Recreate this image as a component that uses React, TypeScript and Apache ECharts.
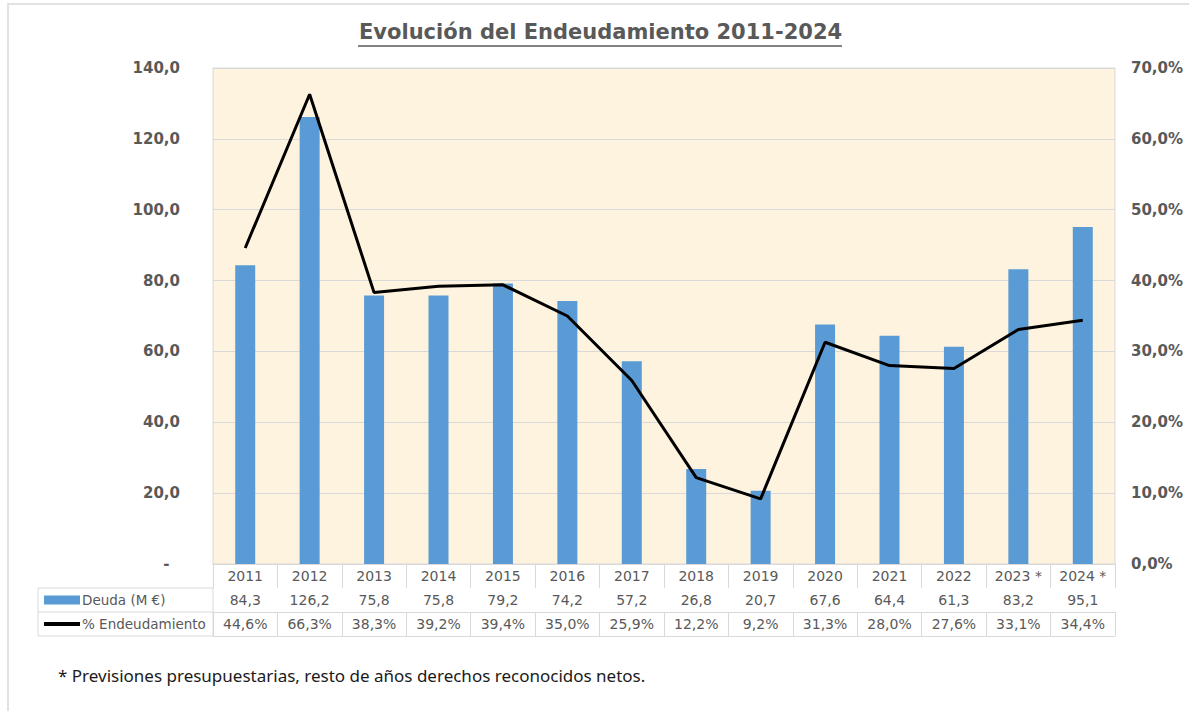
import React, { useEffect, useRef } from "react";
import * as echarts from "echarts";

const years = ["2011", "2012", "2013", "2014", "2015", "2016", "2017", "2018", "2019", "2020", "2021", "2022", "2023 *", "2024 *"];
const deuda = [84.3, 126.2, 75.8, 75.8, 79.2, 74.2, 57.2, 26.8, 20.7, 67.6, 64.4, 61.3, 83.2, 95.1];
const endeudamiento = [44.6, 66.3, 38.3, 39.2, 39.4, 35.0, 25.9, 12.2, 9.2, 31.3, 28.0, 27.6, 33.1, 34.4];
const titleText = "Evolución del Endeudamiento 2011-2024";
const footnote = "* Previsiones presupuestarias, resto de años derechos reconocidos netos.";
const serieDeuda = "Deuda (M €)";
const seriePct = "% Endeudamiento";

const GRAY = "#595959";
const LINE = "#D9D9D9";
const FONT = "DejaVu Sans";

const fmt1 = (v: number) => v.toFixed(1).replace(".", ",");

export default function App() {
  const ref = useRef<HTMLDivElement>(null);
  useEffect(() => {
    if (!ref.current) return;
    const chart = echarts.init(ref.current, null, { renderer: "svg" });
    const gLeft = 213, gTop = 68, gRight = 1115, gBottom = 564;
    const tableLeft = 38, rowH = 24;
    const mkX = (offset: number, labels: ((i: number) => string) | null, ticks: boolean) => ({
      type: "category",
      data: years,
      position: "bottom",
      offset,
      boundaryGap: true,
      axisLine: { show: true, lineStyle: { color: LINE, width: 1 } },
      axisTick: { show: ticks, length: rowH, interval: 0, lineStyle: { color: LINE } },
      axisLabel: labels
        ? {
            show: true,
            interval: 0,
            margin: 5,
            color: GRAY,
            fontFamily: FONT,
            fontSize: 14,
            formatter: (_v: string, i: number) => labels(i),
          }
        : { show: false },
      splitLine: { show: false },
    });
    chart.setOption({
      animation: false,
      backgroundColor: "#ffffff",
      title: {
        text: titleText,
        left: 354,
        top: 16,
        textStyle: { color: GRAY, fontFamily: FONT, fontWeight: "bold", fontSize: 21 },
      },
      grid: {
        left: gLeft,
        top: gTop,
        right: 1189 - gRight,
        bottom: 711 - gBottom,
        show: true,
        backgroundColor: "#FDF3DE",
        borderColor: LINE,
        borderWidth: 1,
      },
      legend: {
        orient: "vertical",
        left: 44,
        top: gBottom + rowH + 5,
        padding: 0,
        itemGap: 10,
        itemWidth: 36,
        itemHeight: 9,
        textStyle: { color: GRAY, fontFamily: FONT, fontSize: 13.5, lineHeight: 14, padding: [0, 0, 0, -3] },
        data: [
          { name: serieDeuda, icon: "rect" },
          { name: seriePct, icon: "path://M0,0L36,0L36,4L0,4Z" },
        ],
      },
      xAxis: [
        mkX(0, (i) => years[i], true),
        mkX(rowH, (i) => fmt1(deuda[i]), true),
        mkX(rowH * 2, (i) => fmt1(endeudamiento[i]) + "%", true),
        mkX(rowH * 3, null, false),
      ],
      yAxis: [
        {
          type: "value",
          min: 0,
          max: 140,
          interval: 20,
          axisLine: { show: false },
          axisTick: { show: false },
          splitLine: { show: true, lineStyle: { color: LINE, width: 1 } },
          axisLabel: {
            margin: 33,
            color: GRAY,
            fontFamily: FONT,
            fontWeight: "bold",
            fontSize: 15,
            formatter: (v: number) => (v === 0 ? "-  " : fmt1(v)),
          },
        },
        {
          type: "value",
          min: 0,
          max: 70,
          interval: 10,
          position: "right",
          axisLine: { show: false },
          axisTick: { show: false },
          splitLine: { show: false },
          axisLabel: {
            margin: 16,
            color: GRAY,
            fontFamily: FONT,
            fontWeight: "bold",
            fontSize: 15,
            formatter: (v: number) => fmt1(v) + "%",
          },
        },
      ],
      series: [
        {
          name: serieDeuda,
          type: "bar",
          xAxisIndex: 0,
          yAxisIndex: 0,
          data: deuda,
          barWidth: 20,
          itemStyle: { color: "#5B9BD5" },
        },
        {
          name: seriePct,
          type: "line",
          xAxisIndex: 0,
          yAxisIndex: 1,
          data: endeudamiento,
          symbol: "none",
          lineStyle: { color: "#000000", width: 3 },
          itemStyle: { color: "#000000" },
          z: 5,
        },
      ],
      graphic: [
        {
          type: "rect",
          shape: { x: 8, y: 4, width: 1300, height: 800 },
          style: { fill: "none", stroke: LINE, lineWidth: 1.5 },
          silent: true,
          z: -10,
        },
        {
          type: "line",
          shape: { x1: 358, y1: 46, x2: 842, y2: 46 },
          style: { stroke: GRAY, lineWidth: 1.5 },
        },
        {
          type: "rect",
          shape: { x: tableLeft, y: gBottom + rowH, width: gLeft - tableLeft, height: rowH * 2 },
          style: { fill: "none", stroke: LINE, lineWidth: 1 },
        },
        {
          type: "line",
          shape: { x1: tableLeft, y1: gBottom + rowH * 2, x2: gLeft, y2: gBottom + rowH * 2 },
          style: { stroke: LINE, lineWidth: 1 },
        },
        {
          type: "text",
          left: 58,
          top: 667,
          style: { text: footnote, fill: "#1a1a1a", font: "17px 'Noto Sans'" },
        },
      ],
    });
    return () => chart.dispose();
  }, []);
  return <div ref={ref} style={{ position: "fixed", left: 0, top: 0, width: 1189, height: 711 }} />;
}
